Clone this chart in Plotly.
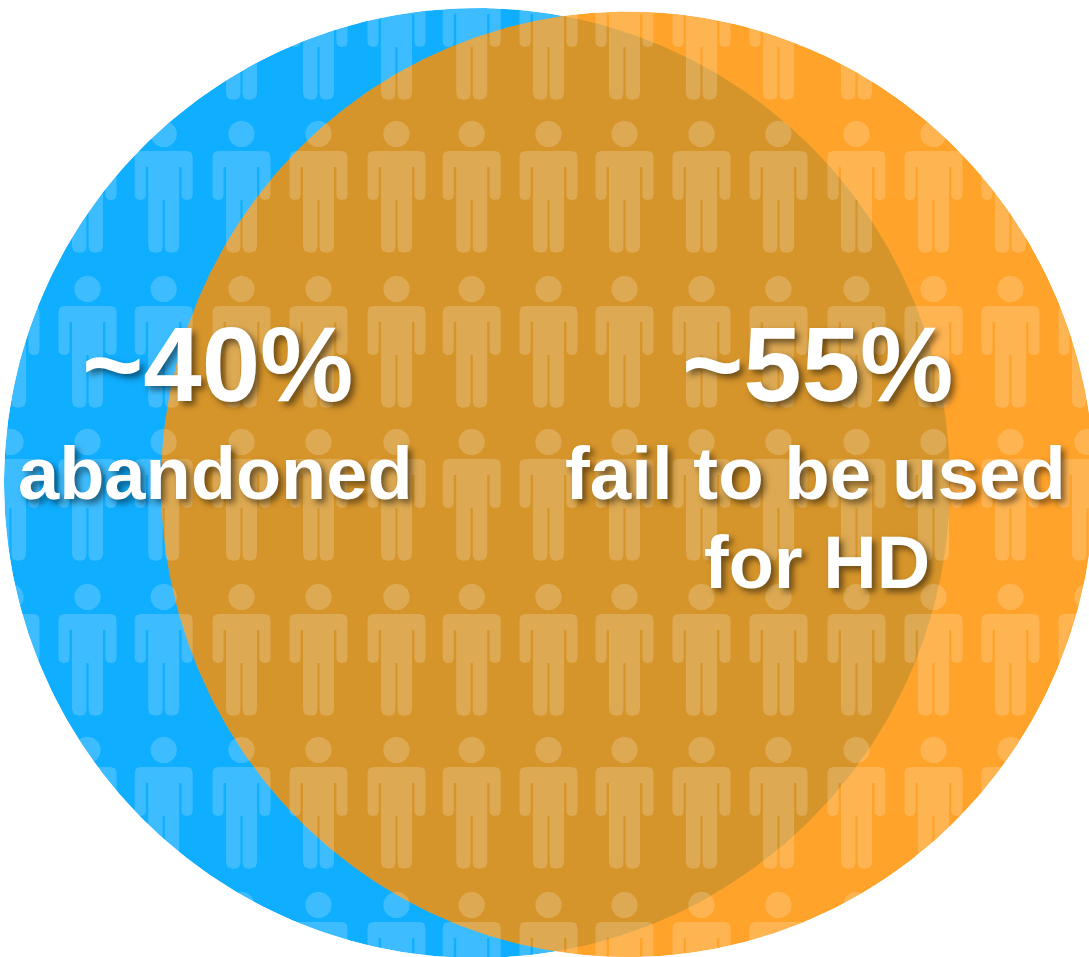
import numpy as np
import plotly.graph_objects as go

W, H = 1089, 957

# Venn circles (centre x, centre y, radius x, radius y)
blue_circle = (477.0, 483.0, 473.0, 475.0)
orange_circle = (627.7, 484.3, 466.7, 472.8)
blue_color = "rgb(16,174,255)"
orange_color = "rgba(255,144,0,0.83)"

# Pictogram grid: person centre x and head centre y
person_cols = [10.5, 87.5, 163.7, 241.5, 318.5, 396.5, 471.7, 548.5, 624.5, 701.5, 778.5, 856.5, 933.5, 1010.5, 1087.5]
person_rows = [-19, 134, 289, 442, 597, 750, 905]

# Labels
labels = ["~40%", "abandoned", "~55%", "fail to be used", "for HD"]
label_x = [217, 215, 817, 815.5, 817]
label_base = [401, 499, 401, 499, 588]
label_size = [105, 74, 105, 74.5, 74]


def ellipse(c, n=720):
    t = np.linspace(0, 2 * np.pi, n, endpoint=False)
    return c[0] + c[2] * np.cos(t), c[1] + c[3] * np.sin(t)


def inside(c, x, y):
    return ((x - c[0]) / c[2]) ** 2 + ((y - c[1]) / c[3]) ** 2 < 1


def rounded(pts, radii, seg=6):
    """Polygon with rounded corners."""
    out = []
    n = len(pts)
    for i in range(n):
        p = np.array(pts[i], float)
        a = np.array(pts[i - 1], float)
        b = np.array(pts[(i + 1) % n], float)
        r = radii[i]
        if r == 0:
            out.append(p)
            continue
        u = (a - p) / np.linalg.norm(a - p)
        v = (b - p) / np.linalg.norm(b - p)
        p0, p2 = p + u * r, p + v * r
        for t in np.linspace(0, 1, seg):
            out.append((1 - t) ** 2 * p0 + 2 * t * (1 - t) * p + t ** 2 * p2)
    return np.array(out)


half = [
    (29, 17, 6), (29, 66, 5.4), (17.9, 66, 5.4), (17.9, 33, 0), (15.5, 33, 0),
    (15.5, 118.7, 7), (1.1, 118.7, 6), (1.1, 66, 0),
]
mirror = [(-x, y, r) for x, y, r in reversed(half)]
outline = half + mirror
body = rounded([(x, y) for x, y, _ in outline], [r for _, _, r in outline])
t = np.linspace(0, 2 * np.pi, 40)
head = np.c_[13.2 * np.cos(t), 13.2 * np.sin(t)]

px, py = [], []
for hy in person_rows:
    for cx in person_cols:
        for part in (head, body):
            px += list(part[:, 0] + cx) + [part[0, 0] + cx, None]
            py += list(part[:, 1] + hy) + [part[0, 1] + hy, None]

fig = go.Figure()
for c, col in ((blue_circle, blue_color), (orange_circle, orange_color)):
    ex, ey = ellipse(c)
    fig.add_trace(go.Scatter(x=np.r_[ex, ex[0]], y=np.r_[ey, ey[0]], mode="lines",
                             line=dict(width=0), fill="toself", fillcolor=col, hoverinfo="skip"))

fig.add_trace(go.Scatter(x=px, y=py, mode="lines", line=dict(width=0), fill="toself",
                         fillcolor="rgba(255,255,255,0.19)", hoverinfo="skip"))

# White mask outside the union of the circles: keeps the pictogram inside them
bx, by = ellipse(blue_circle)
ox, oy = ellipse(orange_circle)
bk = ~inside(orange_circle, bx, by)
ok = ~inside(blue_circle, ox, oy)
pts = np.r_[np.c_[bx[bk], by[bk]], np.c_[ox[ok], oy[ok]]]
centre = np.array([550.0, 483.0])
pts = pts[np.argsort(np.arctan2(pts[:, 1] - centre[1], pts[:, 0] - centre[0]))]
path = "M -60 -60 L 1200 -60 L 1200 1100 L -60 1100 Z M " + " L ".join(f"{x:.2f} {y:.2f}" for x, y in pts) + " Z"
fig.add_shape(type="path", path=path, fillcolor="white", line=dict(width=0),
              fillrule="evenodd", layer="above", xref="x", yref="y")

for s, x, yb, sz in zip(labels, label_x, label_base, label_size):
    fig.add_annotation(x=x, y=yb + 0.212 * sz, text=f"<b>{s}</b>", showarrow=False,
                       xanchor="center", yanchor="bottom", borderpad=0, borderwidth=0,
                       font=dict(family="Liberation Sans", size=sz, color="white",
                                 shadow="4px 4px 6px rgba(0,0,0,0.5)"))

fig.update_layout(
    width=W, height=H, margin=dict(l=0, r=0, t=0, b=0), showlegend=False,
    paper_bgcolor="white", plot_bgcolor="white",
    xaxis=dict(range=[0, W], visible=False, fixedrange=True),
    yaxis=dict(range=[H, 0], visible=False, fixedrange=True),
)
fig.write_html("out.html", post_script="document.body.style.margin='0';",
               config={"displayModeBar": False})
